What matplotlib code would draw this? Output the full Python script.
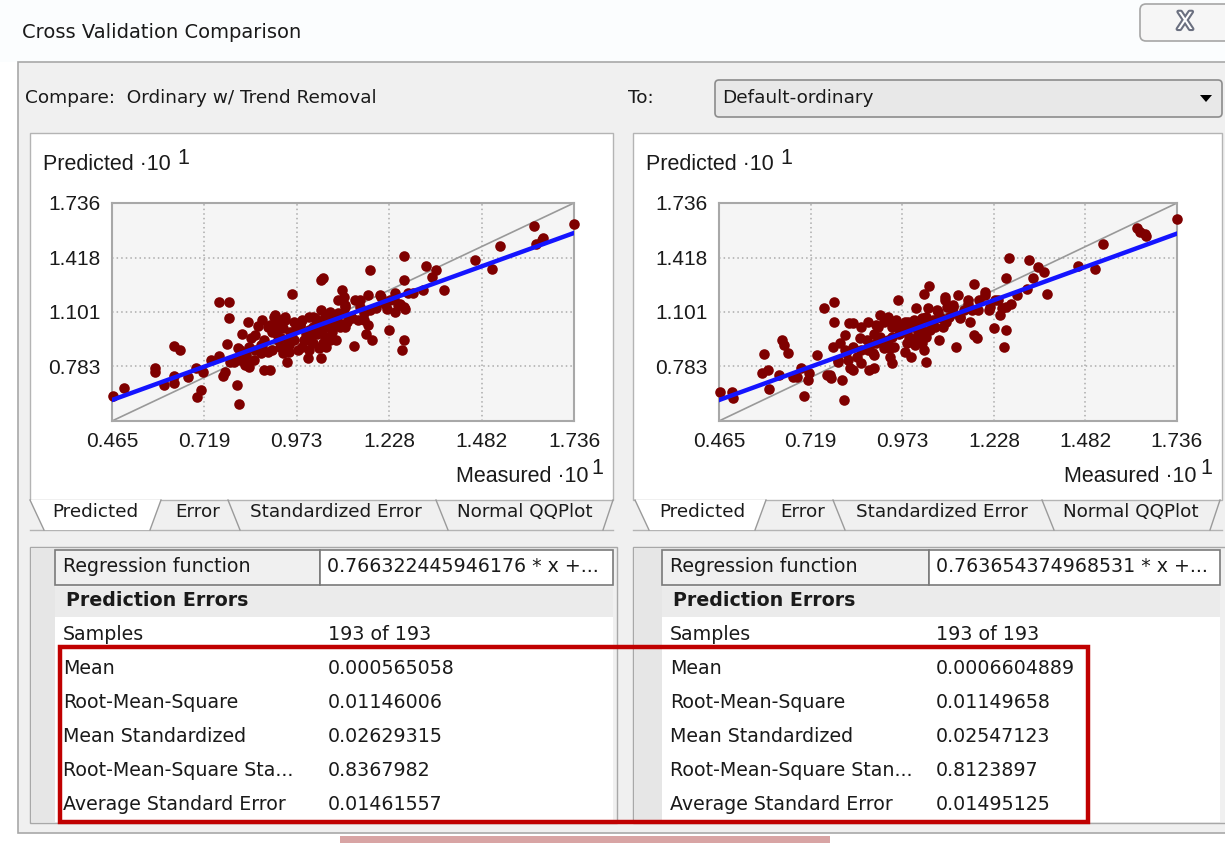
import matplotlib
matplotlib.use("Agg")
import matplotlib.pyplot as plt
import matplotlib.patheffects as pe
from matplotlib.patches import Rectangle, Polygon, FancyBboxPatch

# Axis ticks (values shown as x 10^1)
axis_ticks = [0.465, 0.719, 0.973, 1.228, 1.482, 1.736]
y_tick_labels = [0.783, 1.101, 1.418, 1.736]

# Left model: Ordinary w/ Trend Removal  (measured, predicted)
left_measured = [
    0.467, 0.499, 0.584, 0.584, 0.607, 0.636, 0.636, 0.636, 0.652, 0.674,
    0.696, 0.700, 0.711, 0.716, 0.736, 0.759, 0.786, 0.786, 0.781, 0.759,
    0.770, 0.808, 0.815, 0.838, 0.866, 0.848, 0.822, 0.812, 0.833, 0.802,
    0.855, 0.884, 0.899, 0.884, 0.905, 0.915, 0.926, 0.936, 0.946, 0.951,
    0.946, 0.960, 0.967, 0.983, 0.998, 1.008, 1.005, 1.040, 1.034, 1.045,
    1.040, 1.019, 1.040, 1.055, 1.081, 1.097, 1.097, 1.107, 1.112, 1.133,
    1.130, 1.143, 1.159, 1.169, 1.179, 1.168, 1.175, 1.190, 1.221, 1.228,
    1.243, 1.252, 1.269, 1.269, 1.272, 1.267, 1.262, 1.278, 1.294, 1.320,
    1.330, 1.344, 1.356, 1.377, 1.464, 1.510, 1.533, 1.626, 1.632, 1.648,
    1.650, 1.736,
    0.895, 0.910, 0.920, 0.931, 0.941, 0.956, 0.972, 0.987, 0.993, 1.008,
    1.019, 1.029, 1.050, 1.060, 1.071, 1.076, 1.086, 1.102, 1.122, 1.019,
    0.987, 0.967, 0.874, 0.858, 0.843, 0.833, 0.817, 0.843, 0.791, 0.874,
    0.905, 0.926, 0.936, 0.951, 1.008, 1.029, 1.050, 1.091, 1.107, 1.102,
    1.071, 1.065, 1.045, 1.055, 1.008, 1.257, 1.267, 1.241, 1.216, 1.206,
    1.159, 1.164, 1.148,
    0.858, 0.878, 0.900, 0.922, 0.941, 0.960, 0.982, 1.004, 1.023, 1.043,
    1.065, 1.087, 1.106, 1.125, 1.147, 1.175, 0.817, 0.795, 0.831, 0.776,
    0.894, 0.941, 0.977, 1.010, 0.913, 0.878, 1.087, 1.230, 1.243, 1.202,
]
left_predicted = [
    0.613, 0.655, 0.776, 0.748, 0.675, 0.729, 0.688, 0.904, 0.878, 0.719,
    0.772, 0.607, 0.645, 0.748, 0.820, 1.156, 1.156, 1.063, 0.913, 0.843,
    0.727, 0.675, 0.562, 1.040, 1.018, 0.950, 0.975, 0.888, 0.849, 0.811,
    0.820, 0.762, 0.762, 0.937, 0.985, 1.024, 1.053, 1.005, 0.937, 0.908,
    0.811, 1.205, 1.043, 1.024, 0.975, 0.937, 0.830, 0.830, 0.888, 1.296,
    1.286, 1.073, 1.111, 1.014, 0.937, 1.228, 1.170, 1.131, 1.043, 1.170,
    0.902, 1.053, 1.053, 1.024, 0.937, 1.199, 1.344, 1.126, 1.116, 0.995,
    1.209, 1.140, 1.286, 1.426, 1.116, 0.937, 0.878, 1.209, 1.209, 1.228,
    1.367, 1.302, 1.344, 1.228, 1.402, 1.354, 1.484, 1.600, 1.499, 1.523,
    1.532, 1.612,
    1.014, 1.072, 0.975, 0.946, 1.072, 0.985, 1.005, 1.053, 0.937, 0.995,
    1.014, 0.975, 0.956, 1.053, 1.072, 1.024, 1.092, 1.092, 1.072, 0.917,
    0.898, 0.937, 0.908, 0.878, 0.898, 0.801, 0.820, 0.782, 0.811, 0.859,
    0.878, 0.898, 0.859, 0.869, 1.073, 1.053, 1.073, 1.014, 1.014, 1.189,
    0.985, 0.937, 0.917, 0.898, 0.878, 1.150, 1.131, 1.179, 1.150, 1.189,
    1.092, 0.975, 1.131,
    0.966, 0.908, 1.025, 0.937, 1.054, 0.978, 1.025, 0.937, 1.066, 0.996,
    1.101, 1.042, 1.141, 1.066, 1.170, 1.112, 0.879, 0.821, 0.792, 0.751,
    0.867, 0.891, 0.879, 0.966, 1.083, 1.054, 1.170, 1.170, 1.101, 1.200,
]

# Right model: Default-ordinary  (measured, predicted)
right_measured = [
    0.467, 0.500, 0.503, 0.590, 0.584, 0.600, 0.603, 0.632, 0.639, 0.645,
    0.656, 0.669, 0.681, 0.692, 0.700, 0.711, 0.716, 0.737, 0.755, 0.783,
    0.783, 0.780, 0.764, 0.775, 0.806, 0.812, 0.827, 0.838, 0.859, 0.815,
    0.802, 0.818, 0.796, 0.838, 0.859, 0.880, 0.896, 0.875, 0.896, 0.907,
    0.923, 0.933, 0.944, 0.933, 0.939, 0.944, 0.963, 0.981, 0.991, 0.997,
    1.013, 1.034, 1.047, 1.045, 1.018, 1.034, 1.039, 1.065, 1.076, 1.092,
    1.098, 1.124, 1.129, 1.135, 1.161, 1.166, 1.174, 1.172, 1.182, 1.202,
    1.213, 1.229, 1.250, 1.261, 1.261, 1.256, 1.271, 1.276, 1.293, 1.319,
    1.324, 1.337, 1.350, 1.366, 1.375, 1.462, 1.509, 1.530, 1.626, 1.632,
    1.648, 1.651, 1.736,
    0.955, 0.971, 0.986, 1.002, 1.018, 1.029, 1.039, 1.050, 1.060, 1.081,
    1.102, 1.113, 1.087, 1.007, 1.029, 0.986, 0.965, 0.912, 0.902, 0.880,
    0.859, 0.838, 0.823, 0.848, 0.891, 0.923, 0.950, 0.944, 1.007, 1.039,
    1.071, 1.113, 1.145, 1.155, 1.240, 1.261, 1.187, 1.218,
    0.856, 0.878, 0.901, 0.923, 0.945, 0.967, 0.989, 1.008, 1.028, 1.051,
    1.073, 1.095, 1.114, 1.134, 1.156, 1.184, 0.815, 0.795, 0.829, 0.773,
    0.895, 0.940, 0.981, 1.017, 0.912, 0.878, 1.092, 1.231, 1.245, 1.203,
]
right_predicted = [
    0.632, 0.632, 0.601, 0.855, 0.743, 0.762, 0.650, 0.733, 0.937, 0.908,
    0.859, 0.719, 0.719, 0.772, 0.611, 0.704, 0.743, 0.849, 1.125, 1.156,
    1.043, 0.898, 0.733, 0.714, 0.704, 0.587, 1.034, 1.034, 1.014, 0.966,
    0.917, 0.859, 0.820, 0.762, 0.805, 0.762, 0.772, 0.937, 0.975, 1.014,
    1.043, 1.073, 1.014, 0.937, 0.840, 0.801, 1.170, 1.043, 0.956, 0.840,
    1.121, 1.208, 1.251, 1.121, 0.975, 0.878, 0.811, 1.014, 0.937, 1.189,
    1.131, 0.898, 1.199, 1.072, 1.043, 1.111, 1.262, 0.966, 0.946, 1.199,
    1.111, 1.005, 1.121, 1.296, 0.995, 0.898, 1.418, 1.150, 1.199, 1.237,
    1.402, 1.296, 1.363, 1.334, 1.205, 1.367, 1.354, 1.495, 1.592, 1.567,
    1.557, 1.542, 1.645,
    1.053, 1.014, 0.995, 1.014, 1.034, 0.995, 0.956, 1.043, 1.053, 1.063,
    1.072, 1.092, 1.014, 0.937, 0.917, 0.917, 0.975, 0.956, 0.917, 0.898,
    0.878, 0.898, 0.820, 0.840, 0.859, 0.888, 0.898, 0.956, 1.053, 1.073,
    1.111, 1.131, 1.111, 1.150, 1.170, 1.131, 1.170, 1.131,
    0.949, 0.879, 1.025, 0.925, 1.042, 0.978, 1.042, 0.908, 1.066, 0.996,
    1.101, 1.042, 1.141, 1.066, 1.170, 1.112, 0.879, 0.809, 0.774, 0.733,
    0.850, 0.891, 0.867, 0.961, 1.083, 1.042, 1.170, 1.170, 1.083, 1.217,
]

# Regression lines
left_slope, left_intercept = 0.766322445946176, 0.231
right_slope, right_intercept = 0.763654374968531, 0.232

# Prediction error table
stat_labels_left = ["Samples", "Mean", "Root-Mean-Square", "Mean Standardized",
                    "Root-Mean-Square Sta...", "Average Standard Error"]
stat_labels_right = ["Samples", "Mean", "Root-Mean-Square", "Mean Standardized",
                     "Root-Mean-Square Stan...", "Average Standard Error"]
stat_values_left = ["193 of 193", "0.000565058", "0.01146006", "0.02629315",
                    "0.8367982", "0.01461557"]
stat_values_right = ["193 of 193", "0.0006604889", "0.01149658", "0.02547123",
                     "0.8123897", "0.01495125"]
regression_left = "0.766322445946176 * x +..."
regression_right = "0.763654374968531 * x +..."
tab_names = ["Predicted", "Error", "Standardized Error", "Normal QQPlot"]

W, H = 1225, 843
UI = "DejaVu Sans"
CH = "Liberation Sans"

fig = plt.figure(figsize=(W / 100, H / 100), dpi=100)
fig.patch.set_facecolor("white")

# background axes in pixel coordinates (y down)
bg = fig.add_axes([0, 0, 1, 1])
bg.set_xlim(0, W)
bg.set_ylim(H, 0)
bg.axis("off")


def rect(x0, y0, x1, y1, fc, ec="none", lw=1.0, z=1):
    bg.add_patch(Rectangle((x0, y0), x1 - x0, y1 - y0, facecolor=fc,
                           edgecolor=ec, linewidth=lw, zorder=z))


def txt(x, y, s, size=13.7, ha="left", weight="normal", family=UI, color="#1a1a1a", z=5):
    bg.text(x, y, s, fontsize=size, ha=ha, va="center", fontweight=weight,
            family=family, color=color, zorder=z)


# window title bar
rect(0, 0, W, 62, "#fbfdfe")
txt(22, 32, "Cross Validation Comparison", size=14)
bg.add_patch(FancyBboxPatch((1140, 4), 95, 37, boxstyle="round,pad=0,rounding_size=6",
                            facecolor="#f6f6f6", edgecolor="#a6a6a6", linewidth=1.2, zorder=2))
bg.text(1185, 22, "X", fontsize=17, ha="center", va="center", color="white",
        family=UI, zorder=5,
        path_effects=[pe.withStroke(linewidth=3, foreground="#6b7080")])

# dialog body
rect(18, 62, W + 5, 833, "#f0f0f0", "#a8a8a8", 1.2, z=1)
rect(340, 836, 830, H, "#d8a4a4", z=1)
txt(25, 98, "Compare:  Ordinary w/ Trend Removal", size=13.3)
txt(628, 98, "To:", size=13.3)
bg.add_patch(FancyBboxPatch((715, 80), 507, 37, boxstyle="round,pad=0,rounding_size=4",
                            facecolor="#e8e8e8", edgecolor="#8c8c8c", linewidth=1.2, zorder=2))
txt(722, 98, "Default-ordinary", size=13.3)
bg.add_patch(Polygon([(1200, 95), (1212, 95), (1206, 102)], closed=True,
                     facecolor="black", zorder=5))

panels = [
    dict(x0=30, x1=613, ax=(112, 574), tabs=[52, 175, 250, 457],
         seps=[((30, 500), (44, 530)), ((150, 530), (161, 500)), ((228, 500), (240, 530)),
               ((436, 500), (448, 530)), ((603, 530), (613, 500))],
         tab_sel=[(30, 500), (44, 530), (150, 530), (161, 500)],
         tbl=(30, 617), lab_x=63, val_x=328, cell=(55, 320, 613),
         meas=left_measured, pred=left_predicted, slope=left_slope, icpt=left_intercept,
         reg=regression_left, labels=stat_labels_left, values=stat_values_left),
    dict(x0=633, x1=1222, ax=(719, 1177), tabs=[659, 780, 856, 1063],
         seps=[((635, 500), (649, 530)), ((755, 530), (766, 500)), ((833, 500), (845, 530)),
               ((1042, 500), (1054, 530)), ((1210, 530), (1220, 500))],
         tab_sel=[(635, 500), (649, 530), (755, 530), (766, 500)],
         tbl=(633, 1222), lab_x=670, val_x=936, cell=(662, 929, 1220),
         meas=right_measured, pred=right_predicted, slope=right_slope, icpt=right_intercept,
         reg=regression_right, labels=stat_labels_right, values=stat_values_right),
]

for p in panels:
    x0, x1 = p["x0"], p["x1"]
    # chart panel
    rect(x0, 133, x1, 500, "white", "#b4b4b4", 1.0, z=2)
    bg.plot([x0, x1], [530, 530], color="#b4b4b4", lw=1.0, zorder=3)
    bg.add_patch(Polygon(p["tab_sel"], closed=True, facecolor="white", edgecolor="none", zorder=3))
    for (a, b) in p["seps"]:
        bg.plot([a[0], b[0]], [a[1], b[1]], color="#9a9a9a", lw=1.0, zorder=4)
    for tx, name in zip(p["tabs"], tab_names):
        txt(tx, 512, name, size=13.2)

    # axis labels
    txt(x0 + 13, 165, "Predicted \u00b710", size=15.5, family=CH)
    txt(x0 + 147, 158, "1", size=15.5, family=CH)
    txt(x1 - 25, 476, "Measured \u00b710", size=15.5, family=CH, ha="right")
    txt(x1 - 22, 469, "1", size=15.5, family=CH)

    # scatter plot
    ax0, ax1 = p["ax"]
    ax = fig.add_axes([ax0 / W, 1 - 421 / H, (ax1 - ax0) / W, (421 - 203) / H])
    ax.set_facecolor("#f5f5f5")
    ax.set_xlim(axis_ticks[0], axis_ticks[-1])
    ax.set_ylim(axis_ticks[0], axis_ticks[-1])
    for sp in ax.spines.values():
        sp.set_color("#a8a8a8")
        sp.set_linewidth(1.5)
    for t in axis_ticks[1:-1]:
        ax.axvline(t, color="#ababab", lw=1.1, ls=(0, (1, 2)), zorder=1)
    for t in y_tick_labels[:-1]:
        ax.axhline(t, color="#ababab", lw=1.1, ls=(0, (1, 2)), zorder=1)
    ax.plot(axis_ticks, axis_ticks, color="#999999", lw=1.2, zorder=2)
    ax.scatter(p["meas"], p["pred"], s=58, color="#7f0000", linewidths=0, zorder=3, clip_on=False)
    xs = [axis_ticks[0], axis_ticks[-1]]
    ax.plot(xs, [p["slope"] * v + p["icpt"] for v in xs], color="#1414ff", lw=3.2, zorder=4)
    ax.set_xticks(axis_ticks)
    ax.set_xticklabels([f"{v:.3f}" for v in axis_ticks], fontsize=15, family=CH, color="#1a1a1a")
    ax.set_yticks(y_tick_labels)
    ax.set_yticklabels([f"{v:.3f}" for v in y_tick_labels], fontsize=15, family=CH, color="#1a1a1a")
    ax.tick_params(length=0, pad=8)

    # statistics table
    tx0, tx1 = p["tbl"][0], x1 + 4
    c0, c1, c2 = p["cell"]
    rect(tx0, 547, tx1, 823, "#f0f0f0", "#a8a8a8", 1.0, z=2)
    rect(tx0 + 1, 548, c0, 822, "#e6e6e6", z=2)
    rect(c0, 587, c2, 617, "#ebebeb", z=2)
    rect(c0, 617, c2, 822, "white", z=2)
    rect(c0, 550, c1, 585, "#f0f0f0", "#7a7a7a", 1.2, z=3)
    rect(c1, 550, c2, 585, "white", "#7a7a7a", 1.2, z=3)
    txt(p["lab_x"], 567, "Regression function")
    txt(c1 + 7, 567, p["reg"])
    txt(p["lab_x"] + 3, 601, "Prediction Errors", weight="bold", size=13.7)
    for i, (lab, val) in enumerate(zip(p["labels"], p["values"])):
        yy = 634 + i * 34.2
        txt(p["lab_x"], yy, lab)
        txt(p["val_x"], yy, val)

# highlight box around the error statistics
rect(60, 647, 1088, 822, "none", "#c00000", 3.2, z=8)

fig.savefig("out.png", dpi=100)
